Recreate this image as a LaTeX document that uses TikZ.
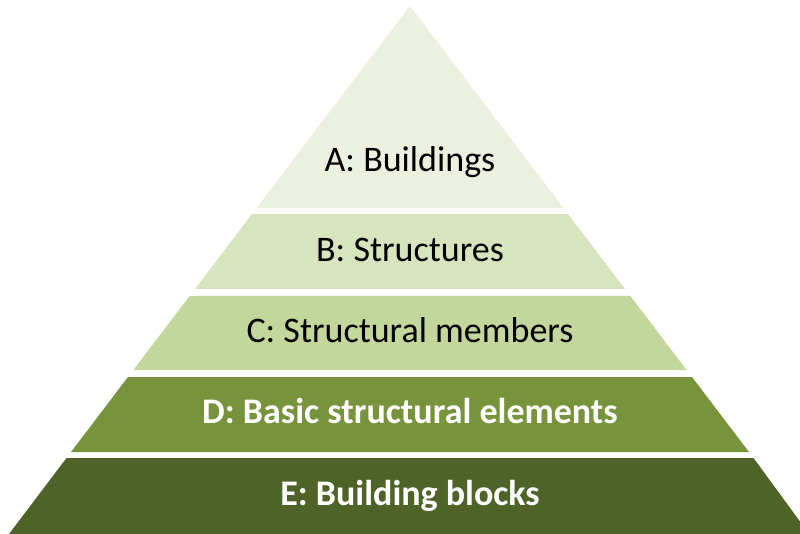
\documentclass[tikz,border=0pt]{standalone}
\usepackage{fontspec}
\setmainfont{Carlito}
\definecolor{levelA}{HTML}{EBF1DE}
\definecolor{levelB}{HTML}{D7E4BD}
\definecolor{levelC}{HTML}{C3D69B}
\definecolor{levelD}{HTML}{77933C}
\definecolor{levelE}{HTML}{4F6228}
\tikzset{
  lbl/.style={anchor=base, font=\fontsize{36}{40}\selectfont, text=black},
  lbldark/.style={lbl, font=\fontsize{36}{40}\selectfont\bfseries, text=white}
}
\begin{document}
\begin{tikzpicture}[x=1pt,y=-1pt]
  \useasboundingbox (0,0) rectangle (800,534);
  \clip (0,0) rectangle (800,534);
  % layers, top to bottom
  \fill[levelA] (410,6) -- (563.5,208) -- (256.5,208) -- cycle;
  \fill[levelB] (252,214) -- (568,214) -- (625,289) -- (195,289) -- cycle;
  \fill[levelC] (189.6,296) -- (630.4,296) -- (686.6,370) -- (133.4,370) -- cycle;
  \fill[levelD] (128,377) -- (692,377) -- (749,452) -- (71,452) -- cycle;
  \fill[levelE] (66.5,458) -- (753.5,458) -- (815,542) -- (3,542) -- cycle;
  % labels
  \node[lbl] (a) at (410,172) {A: Buildings};
  \node[lbl] (b) at (410,262) {B: Structures};
  \node[lbl] (c) at (410,343) {C: Structural members};
  \node[lbldark] (d) at (410,423) {D: Basic structural elements};
  \node[lbldark] (e) at (410,505) {E: Building blocks};
\end{tikzpicture}
\end{document}
